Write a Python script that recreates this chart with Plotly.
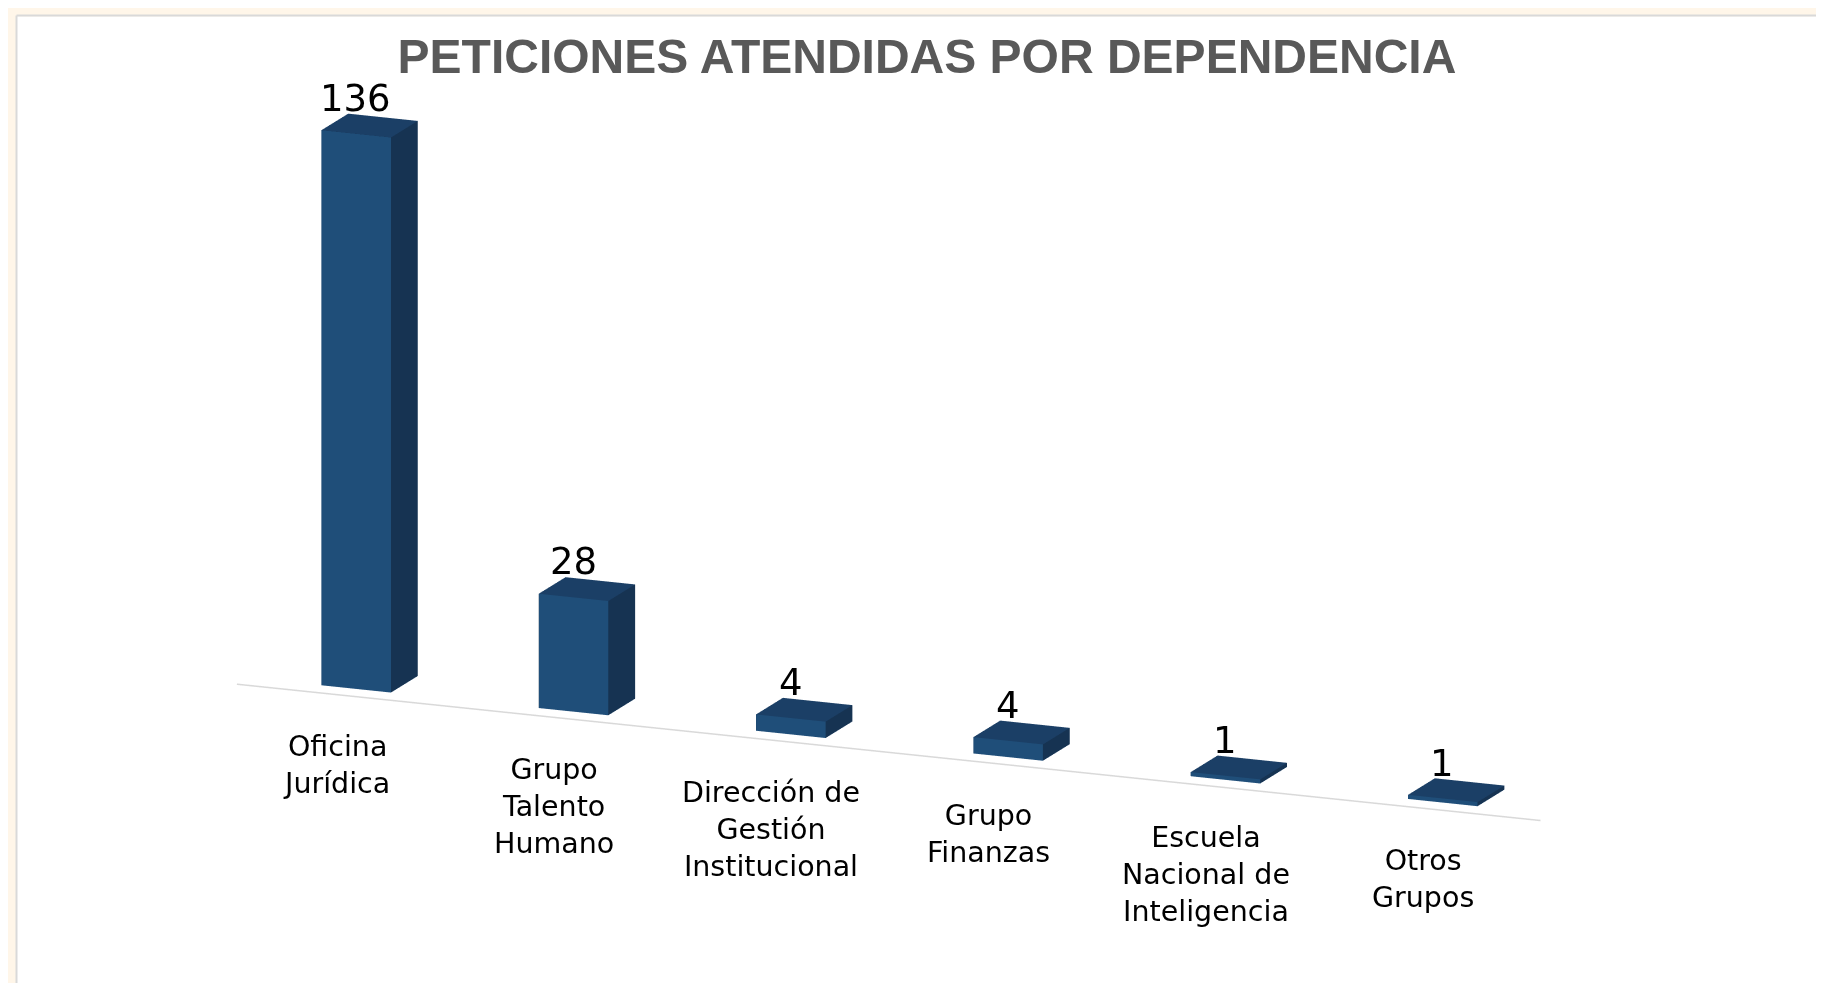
import plotly.graph_objects as go

# ---------------- data ----------------
categories = [
    "Oficina<br>Jurídica",
    "Grupo<br>Talento<br>Humano",
    "Dirección de<br>Gestión<br>Institucional",
    "Grupo<br>Finanzas",
    "Escuela<br>Nacional de<br>Inteligencia",
    "Otros<br>Grupos",
]
values = [136, 28, 4, 4, 1, 1]
title_text = "PETICIONES ATENDIDAS POR DEPENDENCIA"

# ---------------- style ----------------
FRONT = "#1F4E79"
TOP = "#1B3F66"
SIDE = "#163352"
BAR_W = 0.32          # bar width in category units
DEPTH0, DEPTH1 = 0.12, 0.42   # bar depth span
FLOOR_DEPTH = 0.90
ZMAX = max(values)

# ---------------- build 3D boxes from data ----------------
xs, ys, zs, I, J, K, fc = [], [], [], [], [], [], []
for idx, v in enumerate(values):
    x0, x1 = idx - BAR_W / 2, idx + BAR_W / 2
    y0, y1 = DEPTH0, DEPTH1
    base = len(xs)
    corners = [
        (x0, y0, 0), (x1, y0, 0), (x1, y1, 0), (x0, y1, 0),
        (x0, y0, v), (x1, y0, v), (x1, y1, v), (x0, y1, v),
    ]
    for c in corners:
        xs.append(c[0]); ys.append(c[1]); zs.append(c[2])
    faces = [
        ((0, 1, 5), FRONT), ((0, 5, 4), FRONT),   # front
        ((1, 2, 6), SIDE), ((1, 6, 5), SIDE),     # right side
        ((4, 5, 6), TOP), ((4, 6, 7), TOP),       # top
        ((0, 3, 7), SIDE), ((0, 7, 4), SIDE),     # left
        ((3, 2, 6), SIDE), ((3, 6, 7), SIDE),     # back
        ((0, 1, 2), FRONT), ((0, 2, 3), FRONT),   # bottom
    ]
    for (a, b, c), col in faces:
        I.append(base + a); J.append(base + b); K.append(base + c); fc.append(col)

mesh = go.Mesh3d(
    x=xs, y=ys, z=zs, i=I, j=J, k=K,
    facecolor=fc, flatshading=True,
    lighting=dict(ambient=1.0, diffuse=0.0, specular=0.0, roughness=1.0, fresnel=0.0),
    hoverinfo="skip", showscale=False,
)

n = len(values)
floor_line = go.Scatter3d(
    x=[-0.5, n - 0.5], y=[0, 0], z=[0, 0],
    mode="lines", line=dict(color="#D9D9D9", width=3),
    hoverinfo="skip", showlegend=False,
)

fig = go.Figure([mesh, floor_line])

label_font = dict(family="DejaVu Sans, Verdana, sans-serif", size=28.5, color="#000000")
value_font = dict(family="DejaVu Sans, Verdana, sans-serif", size=37, color="#000000")

annotations = []
for idx, (cat, v) in enumerate(zip(categories, values)):
    annotations.append(dict(
        x=idx, y=0, z=0, text=cat, showarrow=False,
        xanchor="center", yanchor="top", xshift=-9, yshift=-32.5, font=label_font,
    ))
    annotations.append(dict(
        x=idx, y=(DEPTH0 + DEPTH1) / 2, z=v, text=str(v), showarrow=False,
        xanchor="center", yanchor="bottom", xshift=-14, yshift=4, font=value_font,
    ))

axis_off = dict(visible=False, showbackground=False, showspikes=False)
d = 3.0
eye = dict(x=0.368 * d, y=-0.894 * d, z=0.254 * d)
S = 3.31  # ortho zoom via aspect ratio

fig.update_layout(
    width=1824, height=983,
    margin=dict(l=0, r=0, t=0, b=0),
    paper_bgcolor="#FFF6E9",
    plot_bgcolor="white",
    showlegend=False,
    hovermode=False,
    title=dict(
        text=title_text, x=0.5038, y=1 - 48 / 983, xanchor="center", yanchor="middle",
        font=dict(family="Liberation Sans, Arial, sans-serif", size=48, color="#595959", weight="bold"),
    ),
    scene=dict(
        domain=dict(x=[0.0128, 0.9974], y=[0.1165, 0.9835]),
        xaxis=dict(range=[-0.5, n - 0.5], **axis_off),
        yaxis=dict(range=[0, FLOOR_DEPTH], **axis_off),
        zaxis=dict(range=[0, ZMAX], **axis_off),
        aspectmode="manual",
        aspectratio=dict(x=1.0 * S, y=0.15 * S, z=0.407 * S),
        camera=dict(eye=eye, up=dict(x=0, y=0, z=1), center=dict(x=0, y=0, z=0),
                    projection=dict(type="orthographic")),
        bgcolor="rgba(0,0,0,0)",
        annotations=annotations,
    ),
    shapes=[
        dict(type="rect", xref="paper", yref="paper", x0=9 / 1824, x1=1, y0=0, y1=1 - 8.5 / 983,
             fillcolor="white", line=dict(width=0), layer="below"),
        dict(type="line", xref="paper", yref="paper", x0=8.5 / 1824, x1=8.5 / 1824, y0=0, y1=1 - 7.5 / 983,
             line=dict(color="#D9D9D9", width=2), layer="below"),
        dict(type="line", xref="paper", yref="paper", x0=8.5 / 1824, x1=1, y0=1 - 7.5 / 983, y1=1 - 7.5 / 983,
             line=dict(color="#D9D9D9", width=2), layer="below"),
    ],
)

fig.write_html("out.html", config={"displayModeBar": False})
